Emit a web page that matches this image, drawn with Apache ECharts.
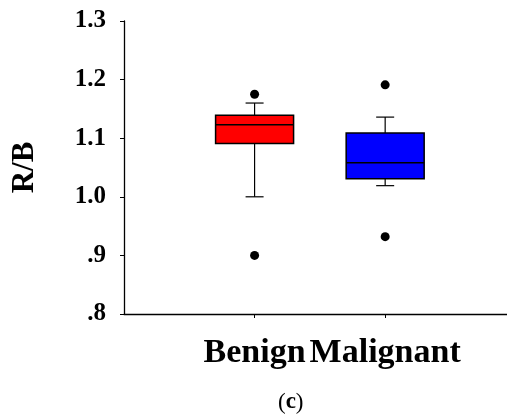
<!DOCTYPE html>
<html>
<head>
<meta charset="utf-8">
<script src="https://cdn.jsdelivr.net/npm/echarts@6/dist/echarts.min.js"></script>
<style>html,body{margin:0;padding:0;background:#fff}#c{width:507px;height:419px}</style>
</head>
<body>
<div id="c"></div>
<script>
var categories = ['Benign', 'Malignant'];
var positions = [1, 2];
var boxColors = ['#ff0000', '#0000ff'];
// [lowerWhisker, Q1, median, Q3, upperWhisker]
var benignBox = [1.000, 1.091, 1.123, 1.139, 1.160];
var malignantBox = [1.019, 1.031, 1.058, 1.109, 1.136];
var benignOutliers = [1.175, 0.900];
var malignantOutliers = [1.191, 0.932];
var yTickLabels = {'0.8': '.8', '0.9': '.9', '1.0': '1.0', '1.1': '1.1', '1.2': '1.2', '1.3': '1.3'};

var boxes = [benignBox, malignantBox];
var boxData = boxes.map(function (b, i) { return [positions[i]].concat(b); });
var outlierData = [];
benignOutliers.forEach(function (v) { outlierData.push([positions[0], v]); });
malignantOutliers.forEach(function (v) { outlierData.push([positions[1], v]); });

var serif = '"Liberation Serif", "Times New Roman", serif';
var chart = echarts.init(document.getElementById('c'), null, {renderer: 'canvas'});
chart.setOption({
  animation: false,
  graphic: [{
    type: 'text', left: 278, top: 391,
    style: {
      text: '({b|c})', fontFamily: serif, fontSize: 23, fontWeight: 'normal', fill: '#000',
      rich: {b: {fontFamily: serif, fontSize: 23, fontWeight: 'bold', color: '#000'}}
    }
  }],
  grid: {left: 124, top: 21, height: 293, right: 0},
  xAxis: {
    type: 'value', min: 0, max: 2.933, interval: 1,
    axisLine: {show: true, lineStyle: {color: '#000', width: 1.3}},
    axisTick: {show: true, length: 4, lineStyle: {color: '#000'}, customValues: positions},
    splitLine: {show: false},
    axisLabel: {
      customValues: positions,
      margin: 22,
      fontFamily: serif, fontSize: 34, fontWeight: 'bold', color: '#000',
      formatter: function (v) { var i = positions.indexOf(v); return i >= 0 ? categories[i] : ''; }
    }
  },
  yAxis: {
    type: 'value', min: 0.8, max: 1.3, interval: 0.1,
    name: 'R/B', nameLocation: 'middle', nameGap: 84,
    nameTextStyle: {fontFamily: serif, fontSize: 31, fontWeight: 'bold', color: '#000'},
    axisLine: {show: true, lineStyle: {color: '#000', width: 1.3}},
    axisTick: {show: true, length: 4, lineStyle: {color: '#000'}},
    splitLine: {show: false},
    axisLabel: {
      margin: 18, fontFamily: serif, fontSize: 25, fontWeight: 'bold', color: '#000',
      formatter: function (v) { return yTickLabels[v.toFixed(1)] || ''; }
    }
  },
  series: [
    {
      type: 'custom',
      data: boxData,
      encode: {x: 0, y: [1, 2, 3, 4, 5]},
      renderItem: function (params, api) {
        var x = api.value(0);
        var lo = api.coord([x, api.value(1)]);
        var q1 = api.coord([x, api.value(2)]);
        var md = api.coord([x, api.value(3)]);
        var q3 = api.coord([x, api.value(4)]);
        var hi = api.coord([x, api.value(5)]);
        var bw = 78, cw = 18, cx = lo[0];
        var color = boxColors[params.dataIndex];
        var ls = {stroke: '#000', lineWidth: 1.2};
        return {
          type: 'group',
          children: [
            {type: 'line', shape: {x1: cx, y1: hi[1], x2: cx, y2: q3[1]}, style: ls},
            {type: 'line', shape: {x1: cx, y1: q1[1], x2: cx, y2: lo[1]}, style: ls},
            {type: 'line', shape: {x1: cx - cw / 2, y1: hi[1], x2: cx + cw / 2, y2: hi[1]}, style: ls},
            {type: 'line', shape: {x1: cx - cw / 2, y1: lo[1], x2: cx + cw / 2, y2: lo[1]}, style: ls},
            {type: 'rect', shape: {x: cx - bw / 2, y: q3[1], width: bw, height: q1[1] - q3[1]},
              style: {fill: color, stroke: '#000', lineWidth: 1.5}},
            {type: 'line', shape: {x1: cx - bw / 2, y1: md[1], x2: cx + bw / 2, y2: md[1]},
              style: {stroke: '#000', lineWidth: 1.5}}
          ]
        };
      }
    },
    {
      type: 'scatter',
      data: outlierData,
      symbol: 'circle', symbolSize: 9,
      itemStyle: {color: '#000', opacity: 1}
    }
  ]
});
</script>
</body>
</html>
